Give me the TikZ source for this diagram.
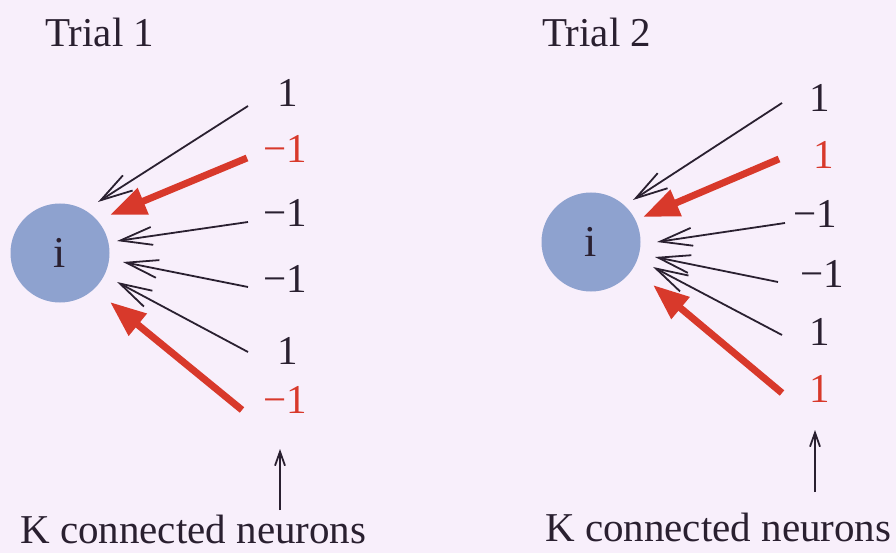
\documentclass[tikz,border=0pt]{standalone}
\usepackage{fontspec}
\setmainfont{Liberation Serif}
\usetikzlibrary{arrows.meta}
\definecolor{bgc}{HTML}{F8EFFB}
\definecolor{inkc}{HTML}{2A2030}
\definecolor{redc}{HTML}{D8392B}
\definecolor{cellc}{HTML}{8EA2CF}
\tikzset{
  txt/.style={font=\fontsize{41}{48}\selectfont, text=inkc, inner sep=0pt, anchor=base},
  redtxt/.style={txt, text=redc},
  cell/.style={circle, fill=cellc, minimum size=99pt, inner sep=0pt, font=\fontsize{44}{48}\selectfont, text=inkc},
  thin arrow/.style={draw=inkc, line width=1.8pt, -{Straight Barb[length=32pt,width=18pt,line width=1.8pt]}},
  thick arrow/.style={draw=redc, line width=7pt, -{Triangle[length=36pt,width=27pt]}},
  up arrow/.style={draw=inkc, line width=1.8pt, -{Straight Barb[length=14pt,width=10pt,line width=1.8pt]}}
}
\begin{document}
\begin{tikzpicture}[x=1pt,y=-1pt]
\useasboundingbox[fill=bgc] (0,0) rectangle (896,553);

% ---------- Trial 1 ----------
\node[txt, anchor=base west] (t1) at (45,47) {Trial 1};
\node[cell] (i1) at (60,253) {\raisebox{-2pt}{i}};

\node[txt] (a1) at (288,107) {1};
\node[redtxt] (a2) at (285,163) {−1};
\node[txt] (a3) at (285,227) {−1};
\node[txt] (a4) at (285,292) {−1};
\node[txt] (a5) at (288,364) {1};
\node[redtxt] (a6) at (285,413) {−1};

\coordinate (s1) at (248,106); \coordinate (e1) at (98,202);
\coordinate (s2) at (247,158); \coordinate (e2) at (110,215);
\coordinate (s3) at (248,222); \coordinate (e3) at (117,241);
\coordinate (s4) at (248,287); \coordinate (e4) at (123,262);
\coordinate (s5) at (248,352); \coordinate (e5) at (117,282);
\coordinate (s6) at (242,410); \coordinate (e6) at (110,302);

\draw[thin arrow] (s1) -- (e1);
\draw[thick arrow] (s2) -- (e2);
\draw[thin arrow] (s3) -- (e3);
\draw[thin arrow] (s4) -- (e4);
\draw[thin arrow] (s5) -- (e5);
\draw[thick arrow] (s6) -- (e6);

\node[txt, anchor=base west, text depth=0pt] (k1) at (20,543) {K connected neurons};
\coordinate (u1s) at (280,510); \coordinate (u1e) at (280,449);
\draw[up arrow] (u1s) -- (u1e);

% ---------- Trial 2 ----------
\node[txt, anchor=base west] (t2) at (542,47) {Trial 2};
\node[cell] (i2) at (591,242) {\raisebox{-2pt}{i}};

\node[txt] (b1) at (820,112) {1};
\node[redtxt] (b2) at (824,169) {1};
\node[txt] (b3) at (815,228) {−1};
\node[txt] (b4) at (822,287) {−1};
\node[txt] (b5) at (820,345) {1};
\node[redtxt] (b6) at (820,402) {1};

\coordinate (r1) at (782,103); \coordinate (f1) at (633,200);
\coordinate (r2) at (779,159); \coordinate (f2) at (643,217);
\coordinate (r3) at (785,223); \coordinate (f3) at (657,242);
\coordinate (r4) at (778,282); \coordinate (f4) at (655,257);
\coordinate (r5) at (782,335); \coordinate (f5) at (653,267);
\coordinate (r6) at (782,393); \coordinate (f6) at (653,285);

\draw[thin arrow] (r1) -- (f1);
\draw[thick arrow] (r2) -- (f2);
\draw[thin arrow] (r3) -- (f3);
\draw[thin arrow] (r4) -- (f4);
\draw[thin arrow] (r5) -- (f5);
\draw[thick arrow] (r6) -- (f6);

\node[txt, anchor=base west, text depth=0pt] (k2) at (545,541) {K connected neurons};
\coordinate (u2s) at (815,492); \coordinate (u2e) at (815,430);
\draw[up arrow] (u2s) -- (u2e);
\end{tikzpicture}
\end{document}
